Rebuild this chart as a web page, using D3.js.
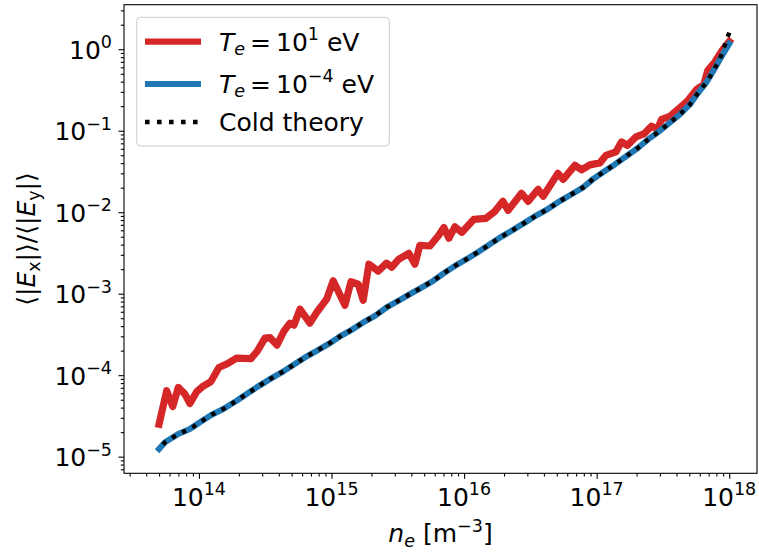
<!DOCTYPE html>
<html>
<head>
<meta charset="utf-8">
<script src="https://cdn.jsdelivr.net/npm/d3@7"></script>
<style>
    body { margin: 0; background: #fff; }
    svg { display: block; font-family: 'DejaVu Sans', sans-serif; }
    text { white-space: pre; }
</style>
</head>
<body>
<div id="chart"></div>
<script>
// Electron density samples and field ratios
const neRed = [5.0e13, 5.71e13, 6.34e13, 6.98e13, 7.84e13, 8.55e13, 9.61e13, 1.078e14, 1.231e14, 1.415e14,
    1.618e14, 1.924e14, 2.467e14, 2.737e14, 3.146e14, 3.43e14, 3.875e14, 4.375e14, 4.857e14, 5.204e14,
    5.78e14, 6.87e14, 7.72e14, 9.19e14, 1.03e15, 1.262e15, 1.401e15, 1.59e15, 1.734e15, 1.914e15,
    2.25e15, 2.6e15, 2.84e15, 3.22e15, 3.83e15, 4.26e15, 4.64e15, 5.52e15, 6.38e15, 7.04e15,
    7.68e15, 8.52e15, 9.63e15, 1.186e16, 1.46e16, 1.707e16, 1.962e16, 2.15e16, 2.71e16, 3.04e16,
    3.62e16, 3.95e16, 5.1e16, 5.59e16, 6.85e16, 7.69e16, 8.89e16, 1.057e17, 1.174e17, 1.396e17,
    1.541e17, 1.704e17, 1.975e17, 2.27e17, 2.59e17, 2.87e17, 3.09e17, 3.56e17, 4.1e17, 4.83e17,
    5.67e17, 6.43e17, 6.89e17, 7.79e17, 8.95e17, 1.0e18];
const ratioHot = [2.5e-5, 6.44e-5, 4.12e-5, 7.08e-5, 5.86e-5, 4.49e-5, 6.26e-5, 7.35e-5, 8.35e-5, 1.24e-4,
    1.37e-4, 1.62e-4, 1.60e-4, 1.94e-4, 2.85e-4, 2.90e-4, 2.34e-4, 3.47e-4, 4.35e-4, 4.11e-4,
    6.46e-4, 4.35e-4, 5.88e-4, 8.56e-4, 1.44e-3, 7.23e-4, 1.40e-3, 1.31e-3, 8.32e-4, 2.30e-3,
    1.89e-3, 2.37e-3, 2.11e-3, 2.65e-3, 3.13e-3, 2.30e-3, 3.93e-3, 3.85e-3, 5.11e-3, 6.48e-3,
    4.79e-3, 6.62e-3, 5.67e-3, 8.18e-3, 8.42e-3, 1.026e-2, 1.36e-2, 1.055e-2, 1.71e-2, 1.36e-2,
    1.91e-2, 1.57e-2, 3.00e-2, 2.53e-2, 3.76e-2, 3.31e-2, 3.81e-2, 4.03e-2, 4.98e-2, 5.50e-2,
    7.29e-2, 6.61e-2, 8.39e-2, 9.14e-2, 0.1138, 0.1038, 0.1376, 0.1497, 0.1824, 0.2305,
    0.3208, 0.3694, 0.548, 0.697, 0.992, 1.24];

const neCold = [5.0e13, 5.54e13, 6.98e13, 8.55e13, 1.017e14, 1.247e14, 1.525e14, 1.924e14, 2.289e14, 2.80e14,
    3.43e14, 4.205e14, 5.14e14, 6.30e14, 7.72e14, 9.44e14, 1.158e15, 1.418e15, 1.734e15, 2.125e15,
    2.60e15, 3.184e15, 3.90e15, 4.78e15, 5.85e15, 7.16e15, 8.52e15, 1.044e16, 1.277e16, 1.565e16,
    1.918e16, 2.346e16, 2.874e16, 3.52e16, 4.31e16, 5.28e16, 6.47e16, 7.91e16, 9.53e16, 1.153e17,
    1.372e17, 1.681e17, 2.056e17, 2.445e17, 2.91e17, 3.56e17, 4.24e17, 5.05e17, 5.83e17, 6.74e17,
    7.56e17, 8.49e17, 1.0e18];
const ratioLow = [1.24e-5, 1.50e-5, 1.90e-5, 2.18e-5, 2.64e-5, 3.27e-5, 3.84e-5, 4.86e-5, 5.87e-5, 7.29e-5,
    8.95e-5, 1.08e-4, 1.33e-4, 1.65e-4, 1.99e-4, 2.40e-4, 2.99e-4, 3.60e-4, 4.44e-4, 5.35e-4,
    6.78e-4, 8.16e-4, 9.86e-4, 1.19e-3, 1.44e-3, 1.82e-3, 2.19e-3, 2.65e-3, 3.25e-3, 4.04e-3,
    5.02e-3, 6.08e-3, 7.46e-3, 9.16e-3, 1.10e-2, 1.37e-2, 1.66e-2, 2.02e-2, 2.60e-2, 3.20e-2,
    3.86e-2, 4.89e-2, 6.19e-2, 7.82e-2, 9.61e-2, 0.1253, 0.1584, 0.210, 0.292, 0.394,
    0.537, 0.748, 1.17];
const ratioTheory = [1.24e-5, 1.50e-5, 1.90e-5, 2.18e-5, 2.64e-5, 3.27e-5, 3.84e-5, 4.86e-5, 5.87e-5, 7.29e-5,
    8.95e-5, 1.08e-4, 1.33e-4, 1.65e-4, 1.99e-4, 2.40e-4, 2.99e-4, 3.60e-4, 4.44e-4, 5.35e-4,
    6.78e-4, 8.16e-4, 9.86e-4, 1.19e-3, 1.44e-3, 1.82e-3, 2.19e-3, 2.65e-3, 3.25e-3, 4.04e-3,
    5.02e-3, 6.08e-3, 7.46e-3, 9.16e-3, 1.10e-2, 1.37e-2, 1.66e-2, 2.02e-2, 2.60e-2, 3.20e-2,
    3.86e-2, 4.89e-2, 6.19e-2, 7.82e-2, 9.61e-2, 0.1253, 0.1584, 0.210, 0.292, 0.394,
    0.537, 0.748, 1.60];

const xMajorExp = [14, 15, 16, 17, 18];
const yMajorExp = [-5, -4, -3, -2, -1, 0];
const xDomain = [2.72e13, 1.62e18];
const yDomain = [6.25e-6, 3.52];

const width = 759, height = 552;
const margin = { left: 124, right: 2, top: 4.7, bottom: 78.7 };
const FS = 25;          // main font size
const SS = 17.5;        // sub/superscript size

const svg = d3.select("#chart").append("svg")
    .attr("width", width)
    .attr("height", height);

const x = d3.scaleLog().domain(xDomain).range([margin.left, width - margin.right]);
const y = d3.scaleLog().domain(yDomain).range([height - margin.bottom, margin.top]);

// minor ticks 2..9 per decade inside the domain
function minorTicks(domain) {
    const out = [];
    const lo = Math.floor(Math.log10(domain[0])), hi = Math.ceil(Math.log10(domain[1]));
    for (let e = lo; e <= hi; e++) {
        for (let m = 2; m <= 9; m++) {
            const v = m * Math.pow(10, e);
            if (v >= domain[0] && v <= domain[1]) out.push(v);
        }
    }
    return out;
}

const supText = e => (e < 0 ? "\u2212" + (-e) : String(e));

// axes
const xAxisG = svg.append("g").attr("transform", `translate(0,${height - margin.bottom})`);
xAxisG.call(d3.axisBottom(x).tickValues(minorTicks(xDomain)).tickSize(3.2).tickFormat(""));
const xMaj = svg.append("g").attr("transform", `translate(0,${height - margin.bottom})`);
xMaj.call(d3.axisBottom(x).tickValues(xMajorExp.map(e => Math.pow(10, e))).tickSize(5.5).tickFormat(""));

const yAxisG = svg.append("g").attr("transform", `translate(${margin.left},0)`);
yAxisG.call(d3.axisLeft(y).tickValues(minorTicks(yDomain)).tickSize(3.2).tickFormat(""));
const yMaj = svg.append("g").attr("transform", `translate(${margin.left},0)`);
yMaj.call(d3.axisLeft(y).tickValues(yMajorExp.map(e => Math.pow(10, e))).tickSize(5.5).tickFormat(""));

svg.selectAll(".domain").remove();
svg.selectAll(".tick line").attr("stroke", "#000").attr("stroke-width", 1.1);

// tick labels as 10^n
xMajorExp.forEach(e => {
    const t = svg.append("text")
        .attr("x", x(Math.pow(10, e)))
        .attr("y", height - margin.bottom + 32.5)
        .attr("text-anchor", "middle")
        .style("font-size", FS + "px");
    t.append("tspan").text("10");
    t.append("tspan").attr("dy", -10.5).style("font-size", SS + "px").text(supText(e));
});

yMajorExp.forEach(e => {
    const t = svg.append("text")
        .attr("x", margin.left - 12)
        .attr("y", y(Math.pow(10, e)) + 9.5)
        .attr("text-anchor", "end")
        .style("font-size", FS + "px");
    t.append("tspan").text("10");
    t.append("tspan").attr("dy", -10.5).style("font-size", SS + "px").text(supText(e));
});

// frame
svg.append("rect")
    .attr("x", margin.left)
    .attr("y", margin.top)
    .attr("width", width - margin.left - margin.right)
    .attr("height", height - margin.top - margin.bottom)
    .attr("fill", "none")
    .attr("stroke", "#000")
    .attr("stroke-width", 1.1);

// lines
const line = d3.line().x(d => x(d[0])).y(d => y(d[1]));

svg.append("path")
    .datum(neRed.map((n, i) => [n, ratioHot[i]]))
    .attr("d", line)
    .attr("fill", "none")
    .attr("stroke", "#d62728")
    .attr("stroke-width", 7.2)
    .attr("stroke-linejoin", "round")
    .attr("stroke-linecap", "square");

svg.append("path")
    .datum(neCold.map((n, i) => [n, ratioLow[i]]))
    .attr("d", line)
    .attr("fill", "none")
    .attr("stroke", "#1f77b4")
    .attr("stroke-width", 6)
    .attr("stroke-linejoin", "round")
    .attr("stroke-linecap", "square");

const dotLen = 4.4, dotGap = 7;
const theory = svg.append("path")
    .datum(neCold.map((n, i) => [n, ratioTheory[i]]))
    .attr("d", line)
    .attr("fill", "none")
    .attr("stroke", "#000")
    .attr("stroke-width", 4.4)
    .attr("stroke-dasharray", `${dotLen},${dotGap}`);
// shift the dot pattern so a dot sits on the last point
const total = theory.node().getTotalLength();
const period = dotLen + dotGap;
theory.attr("stroke-dashoffset", ((dotLen - total) % period + period) % period);

// legend
const lg = svg.append("g");
lg.append("rect")
    .attr("x", 136.7).attr("y", 17.3)
    .attr("width", 252.6).attr("height", 128.7)
    .attr("rx", 4)
    .attr("fill", "#fff").attr("fill-opacity", 0.8)
    .attr("stroke", "#cccccc").attr("stroke-width", 1);

const legendRows = [
    { y: 41.7, color: "#d62728", width: 6.2, dash: null, exp: "1" },
    { y: 84, color: "#1f77b4", width: 6, dash: null, exp: "\u22124" },
    { y: 122, color: "#000", width: 4.6, dash: "4.6,7.4", exp: null }
];

legendRows.forEach(r => {
    lg.append("line")
        .attr("x1", 145).attr("x2", 201)
        .attr("y1", r.y).attr("y2", r.y)
        .attr("stroke", r.color)
        .attr("stroke-width", r.width)
        .attr("stroke-dasharray", r.dash);
    const t = lg.append("text")
        .attr("x", 219)
        .attr("y", r.y + 8.8)
        .style("font-size", FS + "px");
    if (r.exp) {
        t.append("tspan").style("font-style", "italic").text("T");
        t.append("tspan").attr("dy", 4.5).style("font-style", "italic").style("font-size", SS + "px").text("e");
        t.append("tspan").attr("dy", -4.5).attr("dx", 5).text("=");
        t.append("tspan").attr("dx", 5).text("10");
        t.append("tspan").attr("dy", -10.5).style("font-size", SS + "px").text(r.exp);
        t.append("tspan").attr("dy", 10.5).text(" eV");
    } else {
        t.text("Cold theory");
    }
});

// axis labels
const xl = svg.append("text")
    .attr("x", (margin.left + width - margin.right) / 2)
    .attr("y", 542)
    .attr("text-anchor", "middle")
    .style("font-size", FS + "px");
xl.append("tspan").style("font-style", "italic").text("n");
xl.append("tspan").attr("dy", 4.5).style("font-style", "italic").style("font-size", SS + "px").text("e");
xl.append("tspan").attr("dy", -4.5).text(" [m");
xl.append("tspan").attr("dy", -10.5).style("font-size", SS + "px").text("\u22123");
xl.append("tspan").attr("dy", 10.5).text("]");

const yl = svg.append("text")
    .attr("transform", `translate(35,${(margin.top + height - margin.bottom) / 2}) rotate(-90)`)
    .attr("text-anchor", "middle")
    .style("font-size", FS + "px");
yl.append("tspan").text("\u27e8|");
yl.append("tspan").style("font-style", "italic").text("E");
yl.append("tspan").attr("dy", 4.5).style("font-size", SS + "px").text("x");
yl.append("tspan").attr("dy", -4.5).text("|\u27e9/\u27e8|");
yl.append("tspan").style("font-style", "italic").text("E");
yl.append("tspan").attr("dy", 4.5).style("font-size", SS + "px").text("y");
yl.append("tspan").attr("dy", -4.5).text("|\u27e9");
</script>
</body>
</html>
